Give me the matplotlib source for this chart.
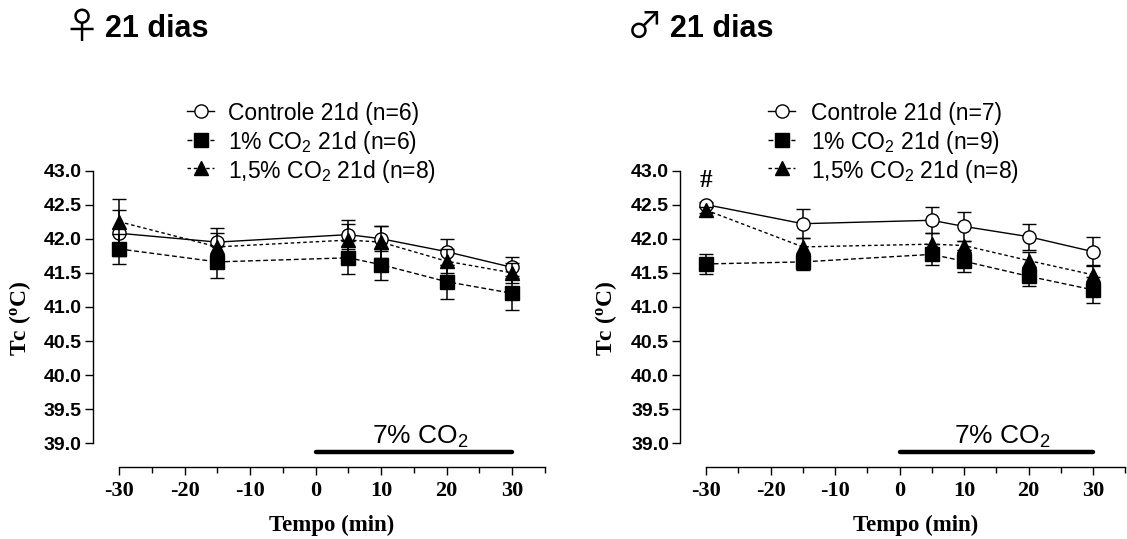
import matplotlib
matplotlib.use("Agg")
import matplotlib.pyplot as plt
from matplotlib.lines import Line2D
from matplotlib.ticker import MultipleLocator, FixedLocator, FormatStrFormatter
from matplotlib.transforms import blended_transform_factory, IdentityTransform

plt.rcParams["mathtext.default"] = "regular"
plt.rcParams["axes.unicode_minus"] = False

# time points (min)
tempo = [-30, -15, 5, 10, 20, 30]

# females, 21 days
fem_ctrl = [42.08, 41.95, 42.06, 42.00, 41.81, 41.58]
fem_ctrl_err = [0.34, 0.20, 0.21, 0.18, 0.19, 0.15]
fem_co2_1 = [41.85, 41.66, 41.72, 41.62, 41.37, 41.20]
fem_co2_1_err = [0.22, 0.24, 0.24, 0.23, 0.25, 0.25]
fem_co2_15 = [42.25, 41.88, 41.98, 41.95, 41.67, 41.50]
fem_co2_15_err = [0.33, 0.20, 0.24, 0.23, 0.18, 0.15]
fem_n = [6, 6, 8]

# males, 21 days
mal_ctrl = [42.50, 42.22, 42.27, 42.18, 42.03, 41.81]
mal_ctrl_err = [0.04, 0.21, 0.19, 0.21, 0.19, 0.21]
mal_co2_1 = [41.63, 41.66, 41.77, 41.67, 41.45, 41.25]
mal_co2_1_err = [0.15, 0.12, 0.15, 0.16, 0.14, 0.19]
mal_co2_15 = [42.42, 41.88, 41.92, 41.90, 41.68, 41.47]
mal_co2_15_err = [0.05, 0.13, 0.17, 0.07, 0.12, 0.15]
mal_n = [7, 9, 8]

# hypercapnia period
co2_start, co2_end = 0, 30

W, H = 1127, 539
fig = plt.figure(figsize=(W / 100, H / 100), dpi=100)
fig.patch.set_facecolor("white")

SANS = "Liberation Sans"
SERIF = "Liberation Serif"

styles = [
    dict(marker="o", mfc="white", ls="-", dashes=None),
    dict(marker="s", mfc="black", ls="--", dashes=(3.5, 2)),
    dict(marker="^", mfc="black", ls="--", dashes=(2.5, 2)),
]


def px_axes(x0, x1, y_top, y_bot):
    return fig.add_axes([x0 / W, 1 - y_bot / H, (x1 - x0) / W, (y_bot - y_top) / H])


def panel(ax, series, errs):
    for s, (y, e, st) in enumerate(zip(series, errs, styles)):
        ln, caps, bars = ax.errorbar(tempo, y, yerr=e, color="black", lw=1.0,
                                     ls=st["ls"], marker=st["marker"], ms=9.5,
                                     mfc=st["mfc"], mec="black", mew=1.0,
                                     ecolor="black", elinewidth=1.1, capsize=5,
                                     capthick=1.1, zorder=3 + s, clip_on=False)
        if st["dashes"]:
            ln.set_dashes(st["dashes"])
    ax.set_xlim(-34, 35)
    ax.set_ylim(38.65, 43.0)
    for side in ("top", "right"):
        ax.spines[side].set_visible(False)
    ax.spines["left"].set_bounds(39, 43)
    ax.spines["bottom"].set_bounds(-30, 35)
    for side in ("left", "bottom"):
        ax.spines[side].set_linewidth(1.0)
    ax.yaxis.set_major_locator(MultipleLocator(0.5))
    ax.yaxis.set_major_formatter(FormatStrFormatter("%.1f"))
    ax.xaxis.set_major_locator(FixedLocator([-30, -20, -10, 0, 10, 20, 30]))
    ax.xaxis.set_minor_locator(FixedLocator([-25, -15, -5, 5, 15, 25, 35]))
    ax.tick_params(axis="y", length=6, width=1.0, pad=2)
    ax.tick_params(axis="x", which="major", length=6, width=1.0, pad=4)
    ax.tick_params(axis="x", which="minor", length=4, width=1.0)
    for lab in ax.get_yticklabels():
        lab.set_fontfamily(SANS)
        lab.set_fontweight("bold")
        lab.set_fontsize(14)
    for lab in ax.get_xticklabels():
        lab.set_fontfamily(SERIF)
        lab.set_fontweight("bold")
        lab.set_fontsize(16)
    ax.set_ylabel("Tc ($^o$C)", fontfamily=SERIF, fontweight="bold", fontsize=17)
    ax.set_xlabel("Tempo (min)", fontfamily=SERIF, fontweight="bold", fontsize=16.5)
    ax.xaxis.set_label_coords(2.5, -0.16,
                              transform=blended_transform_factory(ax.transData, ax.transAxes))
    # 7% CO2 exposure bar
    ax.plot([co2_start, co2_end], [38.87, 38.87], color="black", lw=3.2,
            solid_capstyle="round", clip_on=False)
    ax.text(16, 39.0, "7% CO$_2$", fontfamily=SANS, fontsize=19,
            ha="center", va="baseline")


def legend(x_line, x_text, n):
    labels = ["Controle 21d (n={})".format(n[0]),
              "1% CO$_2$ 21d (n={})".format(n[1]),
              "1,5% CO$_2$ 21d (n={})".format(n[2])]
    rows = [111, 139.5, 168]
    for lab, yy, st in zip(labels, rows, styles):
        yf = 1 - yy / H
        ln = Line2D([x_line / W, (x_line + 27) / W], [yf, yf], transform=fig.transFigure,
                    color="black", lw=1.0, ls=st["ls"])
        if st["dashes"]:
            ln.set_dashes(st["dashes"])
        fig.add_artist(ln)
        fig.add_artist(Line2D([(x_line + 13.5) / W], [yf], transform=fig.transFigure,
                              marker=st["marker"], ms=9.5, mfc=st["mfc"], mec="black",
                              mew=1.0, ls="none"))
        fig.text(x_text / W, yf, lab, fontfamily=SANS, fontsize=16.5,
                 ha="left", va="center_baseline")


def title(x_sym, x_txt, sym):
    fig.text(x_sym / W, 1 - 28 / H, sym, family=["Noto Sans CJK JP", "DejaVu Sans"],
             fontsize=26, ha="center", va="center")
    fig.text(x_txt / W, 1 - 37 / H, "21 dias", fontfamily=SANS, fontweight="bold",
             fontsize=22, ha="left", va="baseline")


ax1 = px_axes(92.8, 544.8, 170.5, 467.2)
panel(ax1, [fem_ctrl, fem_co2_1, fem_co2_15],
      [fem_ctrl_err, fem_co2_1_err, fem_co2_15_err])
ax1.yaxis.set_label_coords(33, 0.5, transform=blended_transform_factory(
    IdentityTransform(), ax1.transAxes))

ax2 = px_axes(680.2, 1125.3, 170.5, 467.2)
panel(ax2, [mal_ctrl, mal_co2_1, mal_co2_15],
      [mal_ctrl_err, mal_co2_1_err, mal_co2_15_err])
ax2.yaxis.set_label_coords(619, 0.5, transform=blended_transform_factory(
    IdentityTransform(), ax2.transAxes))
ax2.text(-30, 42.76, "#", fontfamily=SERIF, fontweight="bold", fontsize=18,
         ha="center", va="baseline")

legend(187, 228, fem_n)
legend(768, 811, mal_n)
title(82, 105, "\u2640")
title(645, 670, "\u2642")

fig.savefig("out.png", dpi=100, facecolor="white")
